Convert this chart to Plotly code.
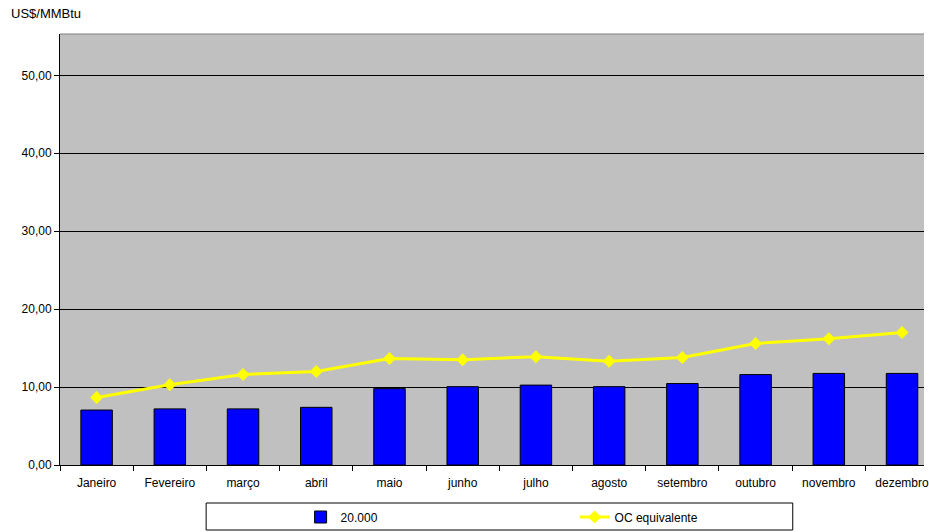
import plotly.graph_objects as go

months = ["Janeiro", "Fevereiro", "março", "abril", "maio", "junho", "julho",
          "agosto", "setembro", "outubro", "novembro", "dezembro"]
bar_values = [7.05, 7.2, 7.2, 7.4, 9.8, 10.05, 10.25, 10.05, 10.45, 11.6, 11.75, 11.75]
oc_values = [8.65, 10.3, 11.6, 12.0, 13.65, 13.5, 13.9, 13.3, 13.8, 15.6, 16.2, 17.0]
y_ticks = [0, 10, 20, 30, 40, 50]

W, H = 929, 532
L, R, T, B = 60, 0, 34, 67
pw, ph = W - L - R, H - T - B

def px_x(x):
    return (x - L) / pw

def px_y(y):
    return (H - B - y) / ph

fig = go.Figure()
fig.add_trace(go.Bar(
    x=months, y=bar_values, name="20.000",
    marker=dict(color="#0000FF", line=dict(color="#000000", width=1)),
    width=0.43,
))
fig.add_trace(go.Scatter(
    x=months, y=oc_values, name="OC equivalente", mode="lines+markers",
    line=dict(color="#FFFF00", width=3),
    marker=dict(symbol="diamond", size=10, color="#FFFF00"),
))

fig.update_layout(
    width=W, height=H, autosize=False,
    margin=dict(l=L, r=R, t=T, b=B, pad=0),
    paper_bgcolor="#FFFFFF", plot_bgcolor="#C0C0C0",
    separators=",.",
    font=dict(family="Liberation Sans, Arial, sans-serif", size=12, color="#000000"),
    showlegend=True,
    legend=dict(
        orientation="h", x=px_x(302), xanchor="left", y=px_y(517), yanchor="middle",
        entrywidth=229, entrywidthmode="pixels",
        bgcolor="rgba(0,0,0,0)", font=dict(size=12),
    ),
    bargap=0.5,
    shapes=[dict(type="rect", xref="paper", yref="paper",
                 x0=px_x(207), x1=px_x(797), y0=px_y(503), y1=px_y(530),
                 line=dict(color="#000000", width=1), fillcolor="#FFFFFF", layer="below")],
    annotations=[dict(text="US$/MMBtu", xref="paper", yref="paper",
                      x=px_x(9), y=px_y(14), xanchor="left", yanchor="middle",
                      showarrow=False, font=dict(size=13))],
)
fig.update_xaxes(
    type="category", range=[-0.5, 11.3],
    showline=True, linecolor="#000000", linewidth=1, mirror=False,
    ticks="outside", ticklen=5, tickcolor="#000000", tickson="boundaries",
    ticklabelstandoff=7,
    showgrid=False, tickfont=dict(size=12),
)
fig.update_yaxes(
    range=[0, 55.3], tickvals=y_ticks, tickformat=".2f",
    showline=True, linecolor="#000000", linewidth=1,
    ticks="outside", ticklen=5, tickcolor="#000000",
    showgrid=True, gridcolor="#000000", gridwidth=1,
    zeroline=False, tickfont=dict(size=12),
)
# top border line of plot area
fig.add_shape(type="line", xref="paper", yref="paper", x0=0, x1=1, y0=1, y1=1,
              line=dict(color="#808080", width=1))

fig.write_html("out.html", config={"displayModeBar": False},
               post_script="document.body.style.margin='0';document.body.style.overflow='hidden';")
